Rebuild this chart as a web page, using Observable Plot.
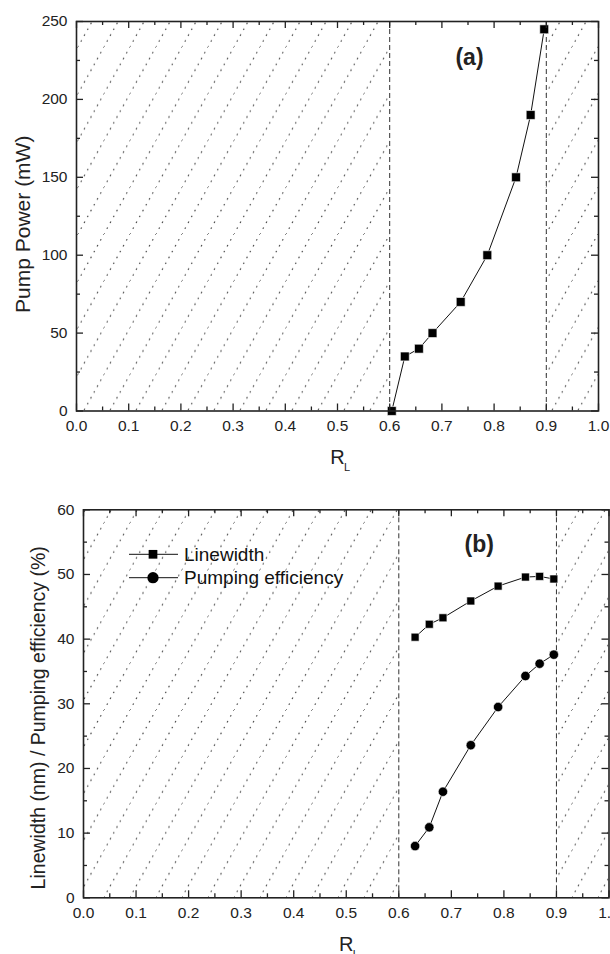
<!DOCTYPE html>
<html><head><meta charset="utf-8">
<script src="https://cdn.jsdelivr.net/npm/d3@7"></script>
<script src="https://cdn.jsdelivr.net/npm/@observablehq/plot@0.6"></script>
<style>
html,body{margin:0;padding:0;background:#fff;width:610px;height:954px;overflow:hidden;}
#chart svg{display:block;}
</style></head><body>
<svg width="0" height="0" style="position:absolute">
<defs>
<pattern id="hatch" patternUnits="userSpaceOnUse" width="26" height="46.8"></pattern>
</defs></svg>
<div id="chart"></div>
<script>
// ---- data ----
const xMajor = [0,0.1,0.2,0.3,0.4,0.5,0.6,0.7,0.8,0.9,1.0];
const xMinor = [0.05,0.15,0.25,0.35,0.45,0.55,0.65,0.75,0.85,0.95];
const aYMajor = [0,50,100,150,200,250];
const aYMinor = [25,75,125,175,225];
const bYMajor = [0,10,20,30,40,50,60];
const bYMinor = [5,15,25,35,45,55];
const hatchFrom = [0, 0.9];
const hatchTo = [0.6, 1.0];
const dashedR = [0.6, 0.9];

const aR = [0.604,0.629,0.656,0.682,0.736,0.787,0.842,0.870,0.896];
const aPump = [0,35,40,50,70,100,150,190,245];

const bR = [0.631,0.658,0.684,0.737,0.789,0.841,0.868,0.895];
const bLinewidth = [40.3,42.3,43.3,45.9,48.2,49.6,49.7,49.3];
const bEfficiency = [8.0,10.9,16.4,23.6,29.5,34.3,36.2,37.6];
const seriesNames = ["Linewidth", "Pumping efficiency"];

const font = "'Liberation Sans', Arial, Helvetica, sans-serif";

// dotted diagonal hatch tile ("/" direction)
(function buildHatch(){
  const pat = d3.select("#hatch");
  const w = 26, h = 46.8, n = 8;
  const pts = [];
  for (let k = 0; k < n; k++) { const t = k / n; pts.push([w * t, h * (1 - t)]); }
  pts.push([w, 0]);
  for (const [cx, cy] of pts) {
    pat.append("g").attr("transform", `translate(${cx},${cy}) rotate(29)`)
      .append("rect").attr("x", -0.6).attr("y", -0.8).attr("width", 1.2).attr("height", 1.6).attr("fill", "#444");
  }
})();

const hatch = hatchFrom.map((d,i)=>({x1:d, x2:hatchTo[i]}));

function panel({height, mt, mb, ml, mr, yDomain, yMajor, yMinor, marks, yTitle, yTitleDx, yTitleDy, yTitleSize, tag, tagDx, tagDy}) {
  const W = 610;
  const ih = height - mt - mb, iw = W - ml - mr;
  return Plot.plot({
    width: W, height,
    marginTop: mt, marginBottom: mb, marginLeft: ml, marginRight: mr,
    style: {fontFamily: font, color: "#222", background: "#fff", overflow: "hidden"},
    x: {domain: [0,1], axis: null},
    y: {domain: yDomain, axis: null},
    marks: [
      Plot.rect(hatch, {x1: "x1", x2: "x2", fill: "url(#hatch)"}),
      Plot.ruleX(dashedR, {x: d=>d, stroke: "#333", strokeWidth: 1, strokeDasharray: "5,3"}),
      ...marks,
      Plot.ruleX(xMajor, {x: d=>d, insetTop: ih - 7, stroke: "#222", strokeWidth: 1.3}),
      Plot.ruleX(xMajor, {x: d=>d, insetBottom: ih - 7, stroke: "#222", strokeWidth: 1.3}),
      Plot.ruleX(xMinor, {x: d=>d, insetTop: ih - 4, stroke: "#222", strokeWidth: 1.3}),
      Plot.ruleX(xMinor, {x: d=>d, insetBottom: ih - 4, stroke: "#222", strokeWidth: 1.3}),
      Plot.ruleY(yMajor, {y: d=>d, insetRight: iw - 7, stroke: "#222", strokeWidth: 1.3}),
      Plot.ruleY(yMajor, {y: d=>d, insetLeft: iw - 7, stroke: "#222", strokeWidth: 1.3}),
      Plot.ruleY(yMinor, {y: d=>d, insetRight: iw - 4, stroke: "#222", strokeWidth: 1.3}),
      Plot.ruleY(yMinor, {y: d=>d, insetLeft: iw - 4, stroke: "#222", strokeWidth: 1.3}),
      Plot.frame({stroke: "#222", strokeWidth: 1.6}),
      Plot.axisX({ticks: xMajor, tickSize: 0, tickPadding: 9, tickFormat: d3.format(".1f"), fontSize: 15.5, label: null}),
      Plot.axisY({ticks: yMajor, tickSize: 0, tickPadding: 9, tickFormat: d3.format("d"), fontSize: 15.5, label: null}),
      Plot.text([yTitle], {text: d=>d, frameAnchor: "left", textAnchor: "middle", lineAnchor: "middle", rotate: -90, dx: yTitleDx, dy: yTitleDy, fontSize: yTitleSize}),
      Plot.text(["R"], {text: d=>d, frameAnchor: "bottom", textAnchor: "middle", lineAnchor: "middle", dy: 46.4, fontSize: 20}),
      Plot.text(["L"], {text: d=>d, frameAnchor: "bottom", textAnchor: "middle", lineAnchor: "middle", dx: 9.5, dy: 56.2, fontSize: 11}),
      Plot.text([tag], {text: d=>d, frameAnchor: "top", textAnchor: "middle", lineAnchor: "middle", dx: tagDx, dy: tagDy, fontSize: 23, fontWeight: "bold"})
    ]
  });
}

const aData = aR.map((r,i)=>({r, p: aPump[i]}));
const svgA = panel({
  height: 476, mt: 21, mb: 65.5, ml: 76, mr: 12,
  yDomain: [0,250], yMajor: aYMajor, yMinor: aYMinor,
  yTitle: "Pump Power (mW)", yTitleDx: -53.5, yTitleDy: 8, yTitleSize: 21,
  tag: "(a)", tagDx: 132, tagDy: 35.7,
  marks: [
    Plot.line(aData, {x: "r", y: "p", stroke: "#111", strokeWidth: 1}),
    Plot.dot(aData, {x: "r", y: "p", symbol: "square", r: 5, fill: "#000", stroke: "#fff", strokeWidth: 0.6})
  ]
});

const bData = bR.map((r,i)=>({r, lw: bLinewidth[i], eff: bEfficiency[i]}));
const bTop = 476;
const svgB = panel({
  height: 954 - bTop, mt: 509.3 - bTop, mb: 56.7, ml: 83, mr: 1.5,
  yDomain: [0,60], yMajor: bYMajor, yMinor: bYMinor,
  yTitle: "Linewidth (nm) / Pumping efficiency (%)", yTitleDx: -45, yTitleDy: 14, yTitleSize: 19.5,
  tag: "(b)", tagDx: 133, tagDy: 34.7,
  marks: [
    Plot.line(bData, {x: "r", y: "lw", stroke: "#111", strokeWidth: 1}),
    Plot.dot(bData, {x: "r", y: "lw", symbol: "square", r: 4.5, fill: "#000", stroke: "#fff", strokeWidth: 0.6}),
    Plot.line(bData, {x: "r", y: "eff", stroke: "#111", strokeWidth: 1}),
    Plot.dot(bData, {x: "r", y: "eff", symbol: "circle", r: 4.7, fill: "#000", stroke: "#fff", strokeWidth: 0.6})
  ]
});

// legend inside panel (b)
const lg = d3.select(svgB).append("g").attr("font-family", font).attr("font-size", 19).attr("fill", "#111").attr("text-anchor", "start");
const legendSym = [d3.symbolSquare, d3.symbolCircle];
const legendSize = [76, 100];
seriesNames.forEach((name, i) => {
  const y = 554.3 - bTop + i * 23.4;
  lg.append("line").attr("x1", 129).attr("x2", 178).attr("y1", y).attr("y2", y).attr("stroke", "#111").attr("stroke-width", 1);
  lg.append("path").attr("d", d3.symbol(legendSym[i], legendSize[i])()).attr("transform", `translate(153,${y})`).attr("fill", "#000");
  lg.append("text").attr("x", 184).attr("y", y).attr("dy", "0.35em").text(name);
});

document.getElementById("chart").append(svgA, svgB);
</script>
</body></html>
